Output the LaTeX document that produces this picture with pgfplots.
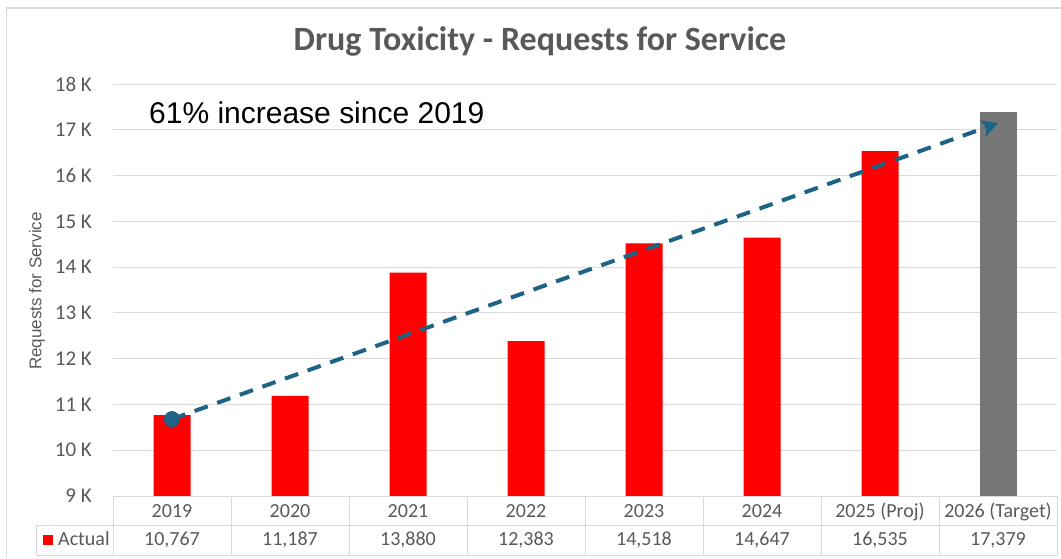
\documentclass[border=0pt]{standalone}
\usepackage{pgfplots}
\pgfplotsset{compat=1.18}
\usepackage{fontspec}
\setmainfont{Carlito}
\newfontfamily\annofont{Liberation Sans}
\usetikzlibrary{arrows.meta}
\definecolor{txtgray}{HTML}{595959}
\definecolor{gridgray}{HTML}{D9D9D9}
\definecolor{barred}{HTML}{FF0000}
\definecolor{bargray}{HTML}{767676}
\definecolor{trend}{HTML}{1D6385}
\begin{document}
\begin{tikzpicture}[x=1pt,y=1pt]
\path[use as bounding box] (0,0) rectangle (1061,558);
\draw[gridgray, line width=1.2pt] (6.5,0) -- (6.5,550) -- (1061,550);
\begin{axis}[at={(113pt,62pt)}, anchor=south west, scale only axis,
  width=944pt, height=412pt,
  xmin=-0.5, xmax=7.5, ymin=9000, ymax=18000,
  scaled y ticks=false,
  ytick={9000,10000,...,18000},
  yticklabels={{9 K},{10 K},{11 K},{12 K},{13 K},{14 K},{15 K},{16 K},{17 K},{18 K}},
  xtick=\empty,
  ymajorgrids, grid style={gridgray, line width=1pt},
  axis line style={draw=none}, major tick length=0pt,
  yticklabel style={font=\fontsize{21}{24}\selectfont, text=txtgray, anchor=east, inner sep=0pt, xshift=-21pt},
  clip mode=individual]
\addplot[ybar, bar width=37pt, bar shift=0pt, fill=barred, draw=none]
  coordinates {(0,10767) (1,11187) (2,13880) (3,12383) (4,14518) (5,14647) (6,16535)};
\addplot[ybar, bar width=37pt, bar shift=0pt, fill=bargray, draw=none]
  coordinates {(7,17379)};
\addplot[trend, line width=4pt, dash pattern=on 14pt off 10pt,
  -{Stealth[length=16pt,width=17pt,inset=4pt]},
  mark=*, mark indices={1}, mark size=6pt, mark options={solid, fill=trend}]
  coordinates {(0,10680) (7,17145)};
\end{axis}
% title
\node[anchor=base, text=txtgray, font=\bfseries\fontsize{34}{40}\selectfont] at (540,507) {Drug Toxicity - Requests for Service};
% annotation
\node[anchor=base west, inner sep=0pt, font=\annofont\fontsize{30}{36}\selectfont] at (149,434) {61\% increase since 2019};
% y label
\node[rotate=90, text=txtgray, font=\annofont\fontsize{17}{20}\selectfont] at (37,267) {Requests for Service};
% data table
\begin{scope}[gridgray, line width=1pt]
\draw (113,62) -- (1057,62);
\draw (36,33) -- (1057,33);
\draw (36,3) -- (1057,3);
\draw (36,33) -- (36,3);
\foreach \k in {0,...,8} {\draw (113+118*\k,62) -- (113+118*\k,3);}
\end{scope}
\fill[barred] (43,13) rectangle (53,23);
\node[anchor=base west, inner sep=0pt, text=txtgray, font=\fontsize{20}{24}\selectfont] at (58,13) {Actual};
\begin{scope}[every node/.style={anchor=base, inner sep=0pt, text=txtgray, font=\fontsize{20}{24}\selectfont}]
\node at (172,41) {2019};
\node at (290,41) {2020};
\node at (408,41) {2021};
\node at (526,41) {2022};
\node at (644,41) {2023};
\node at (762,41) {2024};
\node at (880,41) {2025 (Proj)};
\node at (998,41) {2026 (Target)};
\node at (172,13) {10,767};
\node at (290,13) {11,187};
\node at (408,13) {13,880};
\node at (526,13) {12,383};
\node at (644,13) {14,518};
\node at (762,13) {14,647};
\node at (880,13) {16,535};
\node at (998,13) {17,379};
\end{scope}
\end{tikzpicture}
\end{document}
